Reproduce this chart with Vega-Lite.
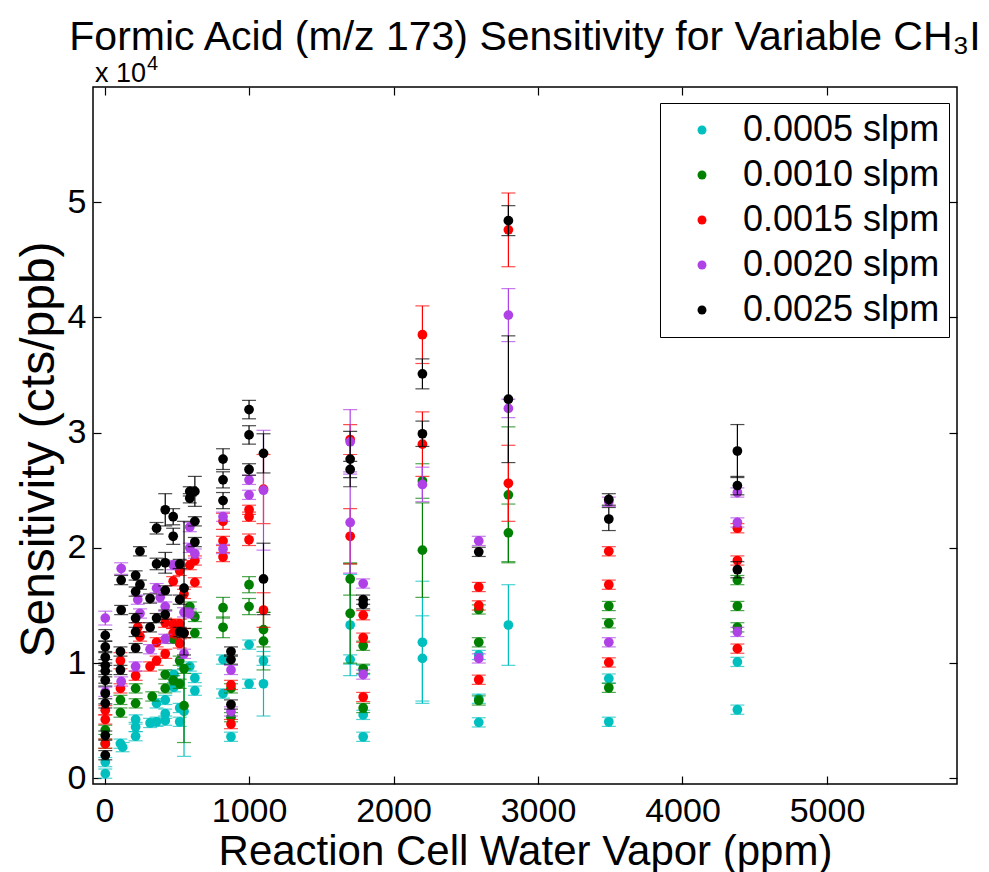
{
"$schema": "https://vega.github.io/schema/vega-lite/v6.json",
"width": 864, "height": 697,
"autosize": {"type": "none"},
"padding": {"left": 93, "top": 87, "right": 32, "bottom": 88},
"background": "white",
"config": {
  "font": "Liberation Sans",
  "view": {"stroke": "black", "strokeWidth": 1.5},
  "axis": {"domain": false, "grid": false, "tickColor": "black", "tickWidth": 1.2, "labelColor": "black", "titleColor": "black", "labelFont": "Liberation Sans", "titleFont": "Liberation Sans", "titleFontWeight": "normal"},
  "legend": {"title": null, "orient": "none", "legendX": 567, "legendY": 16, "labelFontSize": 36, "labelFont": "Liberation Sans", "labelColor": "black", "symbolSize": 80, "symbolType": "circle", "symbolStrokeWidth": 0, "strokeColor": "black", "fillColor": "white", "padding": 9, "rowPadding": 9, "symbolOffset": 15, "labelOffset": 23, "labelLimit": 400}
},
"title": {"text": "Formic Acid (m/z 173) Sensitivity for Variable CH₃I", "fontSize": 41, "fontWeight": "normal", "font": "Liberation Sans", "color": "black", "offset": -5, "anchor": "middle"},
"datasets": {"pts": [
{"s":"0.0005 slpm","x":5,"y":1400,"e":400},{"s":"0.0005 slpm","x":5,"y":400,"e":400},{"s":"0.0005 slpm","x":110,"y":3000,"e":400},{"s":"0.0005 slpm","x":125,"y":2700,"e":400},{"s":"0.0005 slpm","x":215,"y":5100,"e":400},{"s":"0.0005 slpm","x":215,"y":4450,"e":400},{"s":"0.0005 slpm","x":215,"y":3650,"e":400},{"s":"0.0005 slpm","x":315,"y":4800,"e":400},{"s":"0.0005 slpm","x":360,"y":6500,"e":400},{"s":"0.0005 slpm","x":360,"y":4900,"e":400},{"s":"0.0005 slpm","x":420,"y":6800,"e":400},{"s":"0.0005 slpm","x":420,"y":5600,"e":400},{"s":"0.0005 slpm","x":420,"y":5000,"e":400},{"s":"0.0005 slpm","x":480,"y":9000,"e":400},{"s":"0.0005 slpm","x":480,"y":7900,"e":400},{"s":"0.0005 slpm","x":520,"y":6100,"e":400},{"s":"0.0005 slpm","x":520,"y":4900,"e":400},{"s":"0.0005 slpm","x":550,"y":5800,"e":3900},{"s":"0.0005 slpm","x":590,"y":9700,"e":400},{"s":"0.0005 slpm","x":625,"y":8700,"e":400},{"s":"0.0005 slpm","x":625,"y":7600,"e":400},{"s":"0.0005 slpm","x":820,"y":10300,"e":400},{"s":"0.0005 slpm","x":820,"y":7350,"e":400},{"s":"0.0005 slpm","x":875,"y":3600,"e":400},{"s":"0.0005 slpm","x":1000,"y":11600,"e":400},{"s":"0.0005 slpm","x":1000,"y":8200,"e":400},{"s":"0.0005 slpm","x":1100,"y":10200,"e":400},{"s":"0.0005 slpm","x":1100,"y":8200,"e":2800},{"s":"0.0005 slpm","x":1700,"y":13300,"e":4400},{"s":"0.0005 slpm","x":1700,"y":10300,"e":400},{"s":"0.0005 slpm","x":1790,"y":9400,"e":400},{"s":"0.0005 slpm","x":1790,"y":5500,"e":400},{"s":"0.0005 slpm","x":1790,"y":3600,"e":400},{"s":"0.0005 slpm","x":2200,"y":11800,"e":5300},{"s":"0.0005 slpm","x":2200,"y":10400,"e":3700},{"s":"0.0005 slpm","x":2590,"y":10700,"e":400},{"s":"0.0005 slpm","x":2590,"y":6900,"e":400},{"s":"0.0005 slpm","x":2590,"y":4850,"e":400},{"s":"0.0005 slpm","x":2795,"y":13300,"e":3500},{"s":"0.0005 slpm","x":3490,"y":8650,"e":400},{"s":"0.0005 slpm","x":3490,"y":4900,"e":400},{"s":"0.0005 slpm","x":4380,"y":10100,"e":400},{"s":"0.0005 slpm","x":4380,"y":5950,"e":400},
{"s":"0.0010 slpm","x":5,"y":4200,"e":400},{"s":"0.0010 slpm","x":5,"y":3000,"e":400},{"s":"0.0010 slpm","x":110,"y":6800,"e":400},{"s":"0.0010 slpm","x":110,"y":5700,"e":400},{"s":"0.0010 slpm","x":215,"y":7800,"e":400},{"s":"0.0010 slpm","x":215,"y":6500,"e":400},{"s":"0.0010 slpm","x":330,"y":7100,"e":400},{"s":"0.0010 slpm","x":420,"y":9000,"e":400},{"s":"0.0010 slpm","x":420,"y":7800,"e":400},{"s":"0.0010 slpm","x":475,"y":12100,"e":400},{"s":"0.0010 slpm","x":475,"y":8500,"e":400},{"s":"0.0010 slpm","x":520,"y":10200,"e":400},{"s":"0.0010 slpm","x":520,"y":8200,"e":400},{"s":"0.0010 slpm","x":550,"y":9500,"e":400},{"s":"0.0010 slpm","x":550,"y":6300,"e":3200},{"s":"0.0010 slpm","x":590,"y":14900,"e":400},{"s":"0.0010 slpm","x":625,"y":14000,"e":400},{"s":"0.0010 slpm","x":625,"y":12600,"e":400},{"s":"0.0010 slpm","x":820,"y":14800,"e":900},{"s":"0.0010 slpm","x":820,"y":13100,"e":900},{"s":"0.0010 slpm","x":875,"y":7800,"e":400},{"s":"0.0010 slpm","x":875,"y":5300,"e":400},{"s":"0.0010 slpm","x":1000,"y":16800,"e":700},{"s":"0.0010 slpm","x":1000,"y":14900,"e":700},{"s":"0.0010 slpm","x":1100,"y":12900,"e":1500},{"s":"0.0010 slpm","x":1100,"y":11900,"e":2500},{"s":"0.0010 slpm","x":1700,"y":17300,"e":1400},{"s":"0.0010 slpm","x":1700,"y":14300,"e":4300},{"s":"0.0010 slpm","x":1790,"y":11500,"e":400},{"s":"0.0010 slpm","x":1790,"y":9500,"e":400},{"s":"0.0010 slpm","x":1790,"y":6100,"e":400},{"s":"0.0010 slpm","x":2200,"y":25800,"e":1500},{"s":"0.0010 slpm","x":2200,"y":19800,"e":4100},{"s":"0.0010 slpm","x":2590,"y":14650,"e":400},{"s":"0.0010 slpm","x":2590,"y":11800,"e":400},{"s":"0.0010 slpm","x":2590,"y":6750,"e":400},{"s":"0.0010 slpm","x":2795,"y":24600,"e":5900},{"s":"0.0010 slpm","x":2795,"y":21300,"e":2500},{"s":"0.0010 slpm","x":3490,"y":14950,"e":400},{"s":"0.0010 slpm","x":3490,"y":13450,"e":400},{"s":"0.0010 slpm","x":3490,"y":7850,"e":400},{"s":"0.0010 slpm","x":4380,"y":17200,"e":400},{"s":"0.0010 slpm","x":4380,"y":14950,"e":400},{"s":"0.0010 slpm","x":4380,"y":13100,"e":400},
{"s":"0.0015 slpm","x":5,"y":5900,"e":400},{"s":"0.0015 slpm","x":5,"y":5100,"e":400},{"s":"0.0015 slpm","x":5,"y":3000,"e":400},{"s":"0.0015 slpm","x":110,"y":10200,"e":700},{"s":"0.0015 slpm","x":110,"y":7800,"e":400},{"s":"0.0015 slpm","x":215,"y":8900,"e":400},{"s":"0.0015 slpm","x":230,"y":13100,"e":400},{"s":"0.0015 slpm","x":245,"y":12300,"e":400},{"s":"0.0015 slpm","x":315,"y":9700,"e":400},{"s":"0.0015 slpm","x":360,"y":10200,"e":400},{"s":"0.0015 slpm","x":360,"y":11800,"e":400},{"s":"0.0015 slpm","x":420,"y":13500,"e":400},{"s":"0.0015 slpm","x":420,"y":10800,"e":400},{"s":"0.0015 slpm","x":475,"y":17100,"e":400},{"s":"0.0015 slpm","x":475,"y":13400,"e":400},{"s":"0.0015 slpm","x":475,"y":12600,"e":400},{"s":"0.0015 slpm","x":520,"y":18000,"e":400},{"s":"0.0015 slpm","x":520,"y":13400,"e":400},{"s":"0.0015 slpm","x":520,"y":11700,"e":400},{"s":"0.0015 slpm","x":550,"y":16000,"e":400},{"s":"0.0015 slpm","x":550,"y":12600,"e":400},{"s":"0.0015 slpm","x":590,"y":18500,"e":400},{"s":"0.0015 slpm","x":625,"y":18900,"e":400},{"s":"0.0015 slpm","x":625,"y":17000,"e":400},{"s":"0.0015 slpm","x":820,"y":22300,"e":700},{"s":"0.0015 slpm","x":820,"y":20600,"e":400},{"s":"0.0015 slpm","x":820,"y":19200,"e":400},{"s":"0.0015 slpm","x":875,"y":8100,"e":400},{"s":"0.0015 slpm","x":875,"y":4700,"e":400},{"s":"0.0015 slpm","x":1000,"y":23300,"e":400},{"s":"0.0015 slpm","x":1000,"y":22700,"e":400},{"s":"0.0015 slpm","x":1000,"y":20700,"e":500},{"s":"0.0015 slpm","x":1100,"y":25100,"e":3000},{"s":"0.0015 slpm","x":1100,"y":14600,"e":1500},{"s":"0.0015 slpm","x":1700,"y":29400,"e":1300},{"s":"0.0015 slpm","x":1700,"y":21000,"e":2400},{"s":"0.0015 slpm","x":1790,"y":14150,"e":400},{"s":"0.0015 slpm","x":1790,"y":12200,"e":400},{"s":"0.0015 slpm","x":1790,"y":7050,"e":400},{"s":"0.0015 slpm","x":2200,"y":38500,"e":2500},{"s":"0.0015 slpm","x":2200,"y":29000,"e":2800},{"s":"0.0015 slpm","x":2590,"y":16600,"e":400},{"s":"0.0015 slpm","x":2590,"y":15000,"e":400},{"s":"0.0015 slpm","x":2590,"y":8550,"e":400},{"s":"0.0015 slpm","x":2795,"y":47600,"e":3200},{"s":"0.0015 slpm","x":2795,"y":25600,"e":3300},{"s":"0.0015 slpm","x":3490,"y":19700,"e":400},{"s":"0.0015 slpm","x":3490,"y":16800,"e":400},{"s":"0.0015 slpm","x":3490,"y":10050,"e":400},{"s":"0.0015 slpm","x":4380,"y":21700,"e":400},{"s":"0.0015 slpm","x":4380,"y":18900,"e":400},{"s":"0.0015 slpm","x":4380,"y":11250,"e":400},
{"s":"0.0020 slpm","x":5,"y":13900,"e":600},{"s":"0.0020 slpm","x":5,"y":7500,"e":400},{"s":"0.0020 slpm","x":115,"y":18200,"e":500},{"s":"0.0020 slpm","x":115,"y":8400,"e":400},{"s":"0.0020 slpm","x":230,"y":15500,"e":400},{"s":"0.0020 slpm","x":245,"y":14300,"e":400},{"s":"0.0020 slpm","x":215,"y":9700,"e":400},{"s":"0.0020 slpm","x":315,"y":11200,"e":400},{"s":"0.0020 slpm","x":360,"y":16500,"e":400},{"s":"0.0020 slpm","x":385,"y":15700,"e":400},{"s":"0.0020 slpm","x":420,"y":14900,"e":400},{"s":"0.0020 slpm","x":420,"y":12100,"e":400},{"s":"0.0020 slpm","x":475,"y":18500,"e":400},{"s":"0.0020 slpm","x":550,"y":14400,"e":400},{"s":"0.0020 slpm","x":550,"y":10800,"e":400},{"s":"0.0020 slpm","x":590,"y":21800,"e":400},{"s":"0.0020 slpm","x":590,"y":20000,"e":400},{"s":"0.0020 slpm","x":590,"y":14300,"e":400},{"s":"0.0020 slpm","x":625,"y":19500,"e":400},{"s":"0.0020 slpm","x":820,"y":22700,"e":400},{"s":"0.0020 slpm","x":820,"y":19900,"e":400},{"s":"0.0020 slpm","x":875,"y":9400,"e":400},{"s":"0.0020 slpm","x":875,"y":5800,"e":400},{"s":"0.0020 slpm","x":1000,"y":25900,"e":400},{"s":"0.0020 slpm","x":1000,"y":24600,"e":400},{"s":"0.0020 slpm","x":1100,"y":25000,"e":5200},{"s":"0.0020 slpm","x":1700,"y":29200,"e":2800},{"s":"0.0020 slpm","x":1700,"y":22200,"e":4400},{"s":"0.0020 slpm","x":1790,"y":16900,"e":400},{"s":"0.0020 slpm","x":1790,"y":9000,"e":400},{"s":"0.0020 slpm","x":2200,"y":25500,"e":1500},{"s":"0.0020 slpm","x":2590,"y":20600,"e":400},{"s":"0.0020 slpm","x":2590,"y":10400,"e":400},{"s":"0.0020 slpm","x":2795,"y":40200,"e":2300},{"s":"0.0020 slpm","x":2795,"y":32100,"e":800},{"s":"0.0020 slpm","x":3490,"y":24000,"e":400},{"s":"0.0020 slpm","x":3490,"y":11800,"e":400},{"s":"0.0020 slpm","x":4380,"y":24800,"e":400},{"s":"0.0020 slpm","x":4380,"y":22200,"e":400},{"s":"0.0020 slpm","x":4380,"y":12700,"e":400},
{"s":"0.0025 slpm","x":5,"y":12400,"e":500},{"s":"0.0025 slpm","x":5,"y":11400,"e":500},{"s":"0.0025 slpm","x":5,"y":10500,"e":500},{"s":"0.0025 slpm","x":5,"y":9800,"e":500},{"s":"0.0025 slpm","x":5,"y":9300,"e":500},{"s":"0.0025 slpm","x":5,"y":8500,"e":500},{"s":"0.0025 slpm","x":5,"y":7350,"e":900},{"s":"0.0025 slpm","x":5,"y":6500,"e":400},{"s":"0.0025 slpm","x":5,"y":3700,"e":400},{"s":"0.0025 slpm","x":5,"y":2000,"e":400},{"s":"0.0025 slpm","x":115,"y":17200,"e":400},{"s":"0.0025 slpm","x":115,"y":14600,"e":400},{"s":"0.0025 slpm","x":110,"y":11000,"e":400},{"s":"0.0025 slpm","x":110,"y":9400,"e":400},{"s":"0.0025 slpm","x":245,"y":19700,"e":400},{"s":"0.0025 slpm","x":215,"y":17600,"e":400},{"s":"0.0025 slpm","x":245,"y":16800,"e":400},{"s":"0.0025 slpm","x":215,"y":16200,"e":400},{"s":"0.0025 slpm","x":215,"y":13900,"e":400},{"s":"0.0025 slpm","x":215,"y":12700,"e":400},{"s":"0.0025 slpm","x":215,"y":11300,"e":400},{"s":"0.0025 slpm","x":315,"y":15600,"e":400},{"s":"0.0025 slpm","x":315,"y":13100,"e":400},{"s":"0.0025 slpm","x":360,"y":21700,"e":500},{"s":"0.0025 slpm","x":360,"y":18600,"e":500},{"s":"0.0025 slpm","x":360,"y":13900,"e":400},{"s":"0.0025 slpm","x":420,"y":23300,"e":1400},{"s":"0.0025 slpm","x":420,"y":18700,"e":900},{"s":"0.0025 slpm","x":420,"y":16300,"e":400},{"s":"0.0025 slpm","x":420,"y":14200,"e":400},{"s":"0.0025 slpm","x":475,"y":22700,"e":700},{"s":"0.0025 slpm","x":475,"y":21000,"e":700},{"s":"0.0025 slpm","x":520,"y":18600,"e":400},{"s":"0.0025 slpm","x":520,"y":15500,"e":400},{"s":"0.0025 slpm","x":520,"y":12700,"e":400},{"s":"0.0025 slpm","x":550,"y":16500,"e":5800},{"s":"0.0025 slpm","x":550,"y":12600,"e":400},{"s":"0.0025 slpm","x":590,"y":24900,"e":400},{"s":"0.0025 slpm","x":590,"y":24300,"e":400},{"s":"0.0025 slpm","x":625,"y":24900,"e":1300},{"s":"0.0025 slpm","x":625,"y":22300,"e":400},{"s":"0.0025 slpm","x":625,"y":20500,"e":400},{"s":"0.0025 slpm","x":820,"y":27700,"e":900},{"s":"0.0025 slpm","x":820,"y":25900,"e":700},{"s":"0.0025 slpm","x":820,"y":24100,"e":700},{"s":"0.0025 slpm","x":875,"y":11000,"e":400},{"s":"0.0025 slpm","x":875,"y":10300,"e":400},{"s":"0.0025 slpm","x":875,"y":6400,"e":400},{"s":"0.0025 slpm","x":1000,"y":32000,"e":800},{"s":"0.0025 slpm","x":1000,"y":29800,"e":800},{"s":"0.0025 slpm","x":1000,"y":26800,"e":500},{"s":"0.0025 slpm","x":1100,"y":28200,"e":1700},{"s":"0.0025 slpm","x":1100,"y":17300,"e":3100},{"s":"0.0025 slpm","x":1700,"y":27700,"e":2400},{"s":"0.0025 slpm","x":1700,"y":26800,"e":700},{"s":"0.0025 slpm","x":1790,"y":15500,"e":400},{"s":"0.0025 slpm","x":1790,"y":15100,"e":400},{"s":"0.0025 slpm","x":2200,"y":35100,"e":1300},{"s":"0.0025 slpm","x":2200,"y":29900,"e":1100},{"s":"0.0025 slpm","x":2590,"y":19650,"e":400},{"s":"0.0025 slpm","x":2795,"y":48400,"e":1300},{"s":"0.0025 slpm","x":2795,"y":32900,"e":5500},{"s":"0.0025 slpm","x":3490,"y":24200,"e":500},{"s":"0.0025 slpm","x":3490,"y":22500,"e":1000},{"s":"0.0025 slpm","x":4380,"y":28400,"e":2300},{"s":"0.0025 slpm","x":4380,"y":25400,"e":800},{"s":"0.0025 slpm","x":4380,"y":18100,"e":700}
], "note": [{"label": "x 10", "sup": "4"}]},
"data": {"name": "pts"},
"layer": [
  {"transform": [{"filter": "datum.s == '0.0005 slpm'"}],
   "mark": {"type": "errorbar", "ticks": true, "size": 14, "thickness": 1.2, "color": "#00BFBF"},
   "encoding": {
     "x": {"field": "x", "type": "quantitative", "scale": {"domain": [-80, 5900], "nice": false, "zero": false},
           "axis": {"orient": "bottom", "values": [0,1000,2000,3000,4000,5000], "format": "d", "tickSize": -8, "labelPadding": 18, "labelFontSize": 34, "labelOverlap": false, "labelFlush": false, "title": "Reaction Cell Water Vapor (ppm)", "titleFontSize": 42, "titlePadding": 3}},
     "y": {"field": "y", "type": "quantitative", "scale": {"domain": [-500, 60000], "nice": false, "zero": false},
           "axis": {"orient": "left", "values": [0,10000,20000,30000,40000,50000], "labelExpr": "datum.value/10000", "tickSize": -8, "labelPadding": 15, "labelFontSize": 34, "labelOverlap": false, "labelFlush": false, "title": "Sensitivity (cts/ppb)", "titleFontSize": 48, "titlePadding": 4, "titleY": 362}},
     "yError": {"field": "e"}
   }},
  {"transform": [{"filter": "datum.s == '0.0005 slpm'"}],
   "mark": {"type": "point", "filled": true, "size": 95, "opacity": 1},
   "encoding": {
     "x": {"field": "x", "type": "quantitative", "scale": {"domain": [-80, 5900], "nice": false, "zero": false}, "axis": null},
     "y": {"field": "y", "type": "quantitative", "scale": {"domain": [-500, 60000], "nice": false, "zero": false}, "axis": null},
     "color": {"field": "s", "type": "nominal", "scale": {"domain": ["0.0005 slpm","0.0010 slpm","0.0015 slpm","0.0020 slpm","0.0025 slpm"], "range": ["#00BFBF","#008000","#FF0000","#AF41E6","#000000"]}}}},
  {"transform": [{"filter": "datum.s == '0.0010 slpm'"}],
   "mark": {"type": "errorbar", "ticks": true, "size": 14, "thickness": 1.2, "color": "#008000"},
   "encoding": {
     "x": {"field": "x", "type": "quantitative", "scale": {"domain": [-80, 5900], "nice": false, "zero": false}, "axis": null},
     "y": {"field": "y", "type": "quantitative", "scale": {"domain": [-500, 60000], "nice": false, "zero": false}, "axis": null},
     "yError": {"field": "e"}}},
  {"transform": [{"filter": "datum.s == '0.0010 slpm'"}],
   "mark": {"type": "point", "filled": true, "size": 95, "opacity": 1},
   "encoding": {
     "x": {"field": "x", "type": "quantitative", "scale": {"domain": [-80, 5900], "nice": false, "zero": false}, "axis": null},
     "y": {"field": "y", "type": "quantitative", "scale": {"domain": [-500, 60000], "nice": false, "zero": false}, "axis": null},
     "color": {"field": "s", "type": "nominal"}}},
  {"transform": [{"filter": "datum.s == '0.0015 slpm'"}],
   "mark": {"type": "errorbar", "ticks": true, "size": 14, "thickness": 1.2, "color": "#FF0000"},
   "encoding": {
     "x": {"field": "x", "type": "quantitative", "scale": {"domain": [-80, 5900], "nice": false, "zero": false}, "axis": null},
     "y": {"field": "y", "type": "quantitative", "scale": {"domain": [-500, 60000], "nice": false, "zero": false}, "axis": null},
     "yError": {"field": "e"}}},
  {"transform": [{"filter": "datum.s == '0.0015 slpm'"}],
   "mark": {"type": "point", "filled": true, "size": 95, "opacity": 1},
   "encoding": {
     "x": {"field": "x", "type": "quantitative", "scale": {"domain": [-80, 5900], "nice": false, "zero": false}, "axis": null},
     "y": {"field": "y", "type": "quantitative", "scale": {"domain": [-500, 60000], "nice": false, "zero": false}, "axis": null},
     "color": {"field": "s", "type": "nominal"}}},
  {"transform": [{"filter": "datum.s == '0.0020 slpm'"}],
   "mark": {"type": "errorbar", "ticks": true, "size": 14, "thickness": 1.2, "color": "#AF41E6"},
   "encoding": {
     "x": {"field": "x", "type": "quantitative", "scale": {"domain": [-80, 5900], "nice": false, "zero": false}, "axis": null},
     "y": {"field": "y", "type": "quantitative", "scale": {"domain": [-500, 60000], "nice": false, "zero": false}, "axis": null},
     "yError": {"field": "e"}}},
  {"transform": [{"filter": "datum.s == '0.0020 slpm'"}],
   "mark": {"type": "point", "filled": true, "size": 95, "opacity": 1},
   "encoding": {
     "x": {"field": "x", "type": "quantitative", "scale": {"domain": [-80, 5900], "nice": false, "zero": false}, "axis": null},
     "y": {"field": "y", "type": "quantitative", "scale": {"domain": [-500, 60000], "nice": false, "zero": false}, "axis": null},
     "color": {"field": "s", "type": "nominal"}}},
  {"transform": [{"filter": "datum.s == '0.0025 slpm'"}],
   "mark": {"type": "errorbar", "ticks": true, "size": 14, "thickness": 1.2, "color": "#000000"},
   "encoding": {
     "x": {"field": "x", "type": "quantitative", "scale": {"domain": [-80, 5900], "nice": false, "zero": false}, "axis": null},
     "y": {"field": "y", "type": "quantitative", "scale": {"domain": [-500, 60000], "nice": false, "zero": false}, "axis": null},
     "yError": {"field": "e"}}},
  {"transform": [{"filter": "datum.s == '0.0025 slpm'"}],
   "mark": {"type": "point", "filled": true, "size": 95, "opacity": 1},
   "encoding": {
     "x": {"field": "x", "type": "quantitative", "scale": {"domain": [-80, 5900], "nice": false, "zero": false}, "axis": {"orient": "top", "values": [0,1000,2000,3000,4000,5000], "tickSize": -8, "labels": false, "title": null}},
     "y": {"field": "y", "type": "quantitative", "scale": {"domain": [-500, 60000], "nice": false, "zero": false}, "axis": {"orient": "right", "values": [0,10000,20000,30000,40000,50000], "tickSize": -8, "labels": false, "title": null}},
     "color": {"field": "s", "type": "nominal"}}},
  {"data": {"name": "note"},
   "mark": {"type": "text", "align": "left", "baseline": "alphabetic", "fontSize": 27, "font": "Liberation Sans", "color": "black", "dx": 2, "dy": -5},
   "encoding": {
     "x": {"datum": -80, "type": "quantitative", "axis": null},
     "y": {"datum": 60000, "type": "quantitative", "axis": null},
     "text": {"field": "label"}
   }},
  {"data": {"name": "note"},
   "mark": {"type": "text", "align": "left", "baseline": "alphabetic", "fontSize": 20, "font": "Liberation Sans", "color": "black", "dx": 54, "dy": -17},
   "encoding": {
     "x": {"datum": -80, "type": "quantitative", "axis": null},
     "y": {"datum": 60000, "type": "quantitative", "axis": null},
     "text": {"field": "sup"}
   }}
],
"resolve": {"axis": {"x": "independent", "y": "independent"}}
}
